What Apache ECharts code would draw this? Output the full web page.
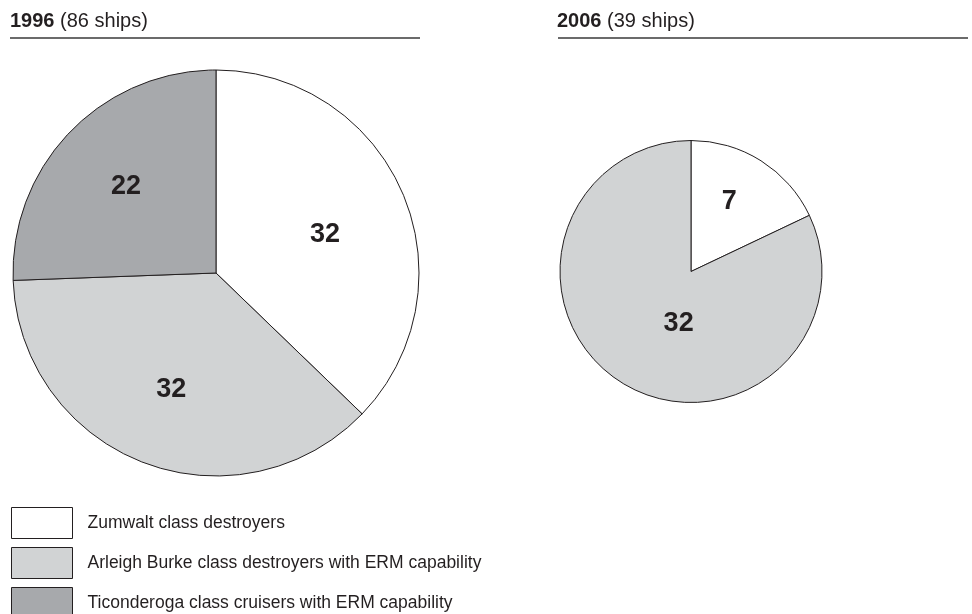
<!DOCTYPE html>
<html>
<head>
<meta charset="utf-8">
<script src="https://cdn.jsdelivr.net/npm/echarts@6/dist/echarts.min.js"></script>
<style>
  html, body { margin: 0; padding: 0; background: #fff; }
  #pieChart { width: 972px; height: 614px; }
</style>
</head>
<body>
<div id="pieChart"></div>
<script>
var classNames = ['Zumwalt class destroyers', 'Arleigh Burke class destroyers with ERM capability', 'Ticonderoga class cruisers with ERM capability'];
var classColors = ['#ffffff', '#d1d3d4', '#a7a9ac'];
var ships1996 = [32, 32, 22];
var ships2006 = [7, 32];
var yearTitles = ['1996', '2006'];
var shipTotals = ['86', '39'];

var myPieDom = document.getElementById('pieChart');
var myPieChart = echarts.init(myPieDom, null, { renderer: 'canvas' });
var myPieOption;

var fontFamily = '"Liberation Sans", Arial, Helvetica, sans-serif';
var inkColor = '#231f20';

function toItems(values) {
  return values.map(function (v, i) {
    return { name: classNames[i], value: v, itemStyle: { color: classColors[i] } };
  });
}

function piePart(values, center, radius) {
  return {
    type: 'pie',
    center: center,
    radius: radius,
    startAngle: 90,
    clockwise: true,
    silent: true,
    avoidLabelOverlap: false,
    itemStyle: { borderColor: inkColor, borderWidth: 1 },
    label: { show: false },
    labelLine: { show: false },
    emphasis: { disabled: true },
    data: toItems(values)
  };
}

// transparent copy of a pie, only to place its value labels further out
function labelPart(values, center, radius, nudge) {
  return {
    type: 'pie',
    center: center,
    radius: radius,
    startAngle: 90,
    silent: true,
    avoidLabelOverlap: false,
    itemStyle: { color: 'rgba(0,0,0,0)', borderWidth: 0 },
    label: {
      show: true,
      position: 'inside',
      formatter: '{c}',
      fontFamily: fontFamily,
      fontWeight: 'bold',
      fontSize: 27,
      color: inkColor
    },
    labelLine: { show: false },
    labelLayout: nudge,
    emphasis: { disabled: true },
    data: values.map(function (v, i) {
      return { name: classNames[i], value: v };
    })
  };
}

function titleText(i) {
  return {
    text: '{b|' + yearTitles[i] + '} (' + shipTotals[i] + ' ships)',
    left: i === 0 ? 10 : 557,
    top: 10,
    padding: 0,
    textStyle: {
      fontFamily: fontFamily, fontSize: 20, fontWeight: 'normal', color: inkColor, lineHeight: 22,
      rich: { b: { fontFamily: fontFamily, fontSize: 20, fontWeight: 'bold', color: inkColor, lineHeight: 22 } }
    }
  };
}

function drawPies() {
  myPieOption = {
    backgroundColor: '#ffffff',
    animation: false,
    title: [titleText(0), titleText(1)],
    graphic: [
      { type: 'line', shape: { x1: 10, y1: 38, x2: 420, y2: 38 }, style: { stroke: '#3a3a3a', lineWidth: 1.3 } },
      { type: 'line', shape: { x1: 558, y1: 38, x2: 968, y2: 38 }, style: { stroke: '#3a3a3a', lineWidth: 1.3 } }
    ],
    legend: {
      orient: 'vertical',
      left: 11,
      top: 507,
      height: 130,
      padding: 0,
      itemWidth: 61,
      itemHeight: 31,
      itemGap: 8,
      icon: 'rect',
      selectedMode: false,
      data: classNames,
      itemStyle: { borderColor: inkColor, borderWidth: 1 },
      textStyle: { fontFamily: fontFamily, fontSize: 17.5, color: inkColor, padding: [0, 0, 0, 10] }
    },
    series: [
      piePart(ships1996, [216, 273], 203),
      piePart(ships2006, [691, 271.5], 131),
      labelPart(ships1996, [216, 273], 244, function (p) {
        return p.dataIndex === 0 ? { dx: -6, dy: 10 } : {};
      }),
      labelPart(ships2006, [691, 271.5], 160, function (p) {
        return p.dataIndex === 1 ? { dx: 32, dy: -18 } : { dx: -6 };
      })
    ]
  };

  myPieOption && myPieChart.setOption(myPieOption);
}

drawPies();
</script>
</body>
</html>
